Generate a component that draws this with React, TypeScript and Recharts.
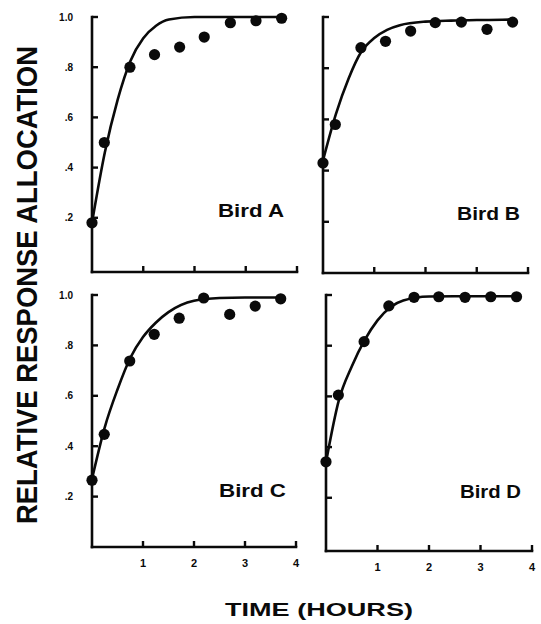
import React from "react";
import { ComposedChart, Line, Scatter, XAxis, YAxis } from "recharts";

// session times (hours) shared by all four birds
const sessionTimes = [0, 0.24, 0.74, 1.22, 1.71, 2.19, 2.7, 3.2, 3.7];

const birdAValues = [0.18, 0.5, 0.8, 0.85, 0.88, 0.92, 0.977, 0.985, 0.995];
const birdBValues = [0.43, 0.58, 0.88, 0.905, 0.945, 0.978, 0.98, 0.952, 0.98];
const birdCValues = [0.265, 0.447, 0.738, 0.844, 0.908, 0.988, 0.923, 0.956, 0.985];
const birdDValues = [0.342, 0.605, 0.816, 0.957, 0.991, 0.993, 0.991, 0.993, 0.993];

// fitted curves
const fitTimes = [0, 0.25, 0.5, 0.75, 1.0, 1.25, 1.5, 2.0, 2.5, 3.0, 3.5, 3.72];
const birdAFit = [0.18, 0.46, 0.67, 0.825, 0.915, 0.965, 0.99, 1.0, 1.0, 1.0, 1.0, 1.0];
const birdBFit = [0.44, 0.62, 0.76, 0.865, 0.918, 0.95, 0.968, 0.982, 0.986, 0.988, 0.989, 0.99];
const birdCFit = [0.27, 0.475, 0.625, 0.75, 0.833, 0.89, 0.932, 0.977, 0.988, 0.99, 0.99, 0.99];
const birdDFit = [0.34, 0.585, 0.718, 0.822, 0.9, 0.952, 0.978, 0.994, 0.995, 0.995, 0.995, 0.995];

const birdNames = ["Bird A", "Bird B", "Bird C", "Bird D"];
const yTicks = [0.2, 0.4, 0.6, 0.8, 1.0];
const xTicks = [1, 2, 3, 4];

const FONT = "'Liberation Sans', Arial, Helvetica, sans-serif";
const INK = "#0a0a0a";

const Y_AXIS_W = 40;
const M_TOP = 10;
const M_RIGHT = 10;
const X_AXIS_H = 30;
const TICK_LEN = 6; // px, inward tick marks

type Box = { left: number; right: number; top: number; bottom: number; yMin: number };

// plot boxes of the four panels (page pixels)
const panelA: Box = { left: 92, right: 297, top: 17, bottom: 272, yMin: -0.016 };
const panelB: Box = { left: 323, right: 528, top: 17, bottom: 273, yMin: 0 };
const panelC: Box = { left: 92, right: 296, top: 295, bottom: 547, yMin: 0 };
const panelD: Box = { left: 326, right: 532, top: 295, bottom: 551, yMin: -0.01 };

type PanelProps = {
  values: number[];
  fit: number[];
  box: Box;
  showY: boolean;
  showX: boolean;
};

const Dot = (props: any) => {
  const { cx, cy } = props;
  if (cx == null || cy == null) return null;
  return <circle cx={cx} cy={cy} r={5.6} fill={INK} />;
};

const fmtY = (v: number) => (v === 1 ? "1.0" : "." + Math.round(v * 10));

const Panel: React.FC<PanelProps> = ({ values, fit, box, showY, showX }) => {
  const { left, right, top, bottom, yMin } = box;
  const points = sessionTimes.map((t, i) => ({ t, v: values[i] }));
  const curve = fitTimes.map((t, i) => ({ t, v: fit[i] }));
  const width = right - left + Y_AXIS_W + M_RIGHT;
  const height = bottom - top + M_TOP + X_AXIS_H;
  const tickStyle = { fill: INK, fontWeight: 700, fontFamily: FONT };
  return (
    <div style={{ position: "absolute", left: left - Y_AXIS_W, top: top - M_TOP }}>
      <ComposedChart
        width={width}
        height={height}
        data={curve}
        margin={{ top: M_TOP, right: M_RIGHT, left: 0, bottom: 0 }}
      >
        <XAxis
          type="number"
          dataKey="t"
          domain={[0, 4]}
          ticks={xTicks}
          interval={0}
          height={X_AXIS_H}
          tickSize={0}
          tickMargin={12}
          axisLine={{ stroke: INK, strokeWidth: 2.6, strokeLinecap: "square" }}
          tickLine={false}
          tick={showX ? { ...tickStyle, fontSize: 11 } : false}
        />
        <YAxis
          type="number"
          dataKey="v"
          domain={[yMin, 1]}
          ticks={yTicks}
          interval={0}
          width={Y_AXIS_W}
          tickSize={0}
          tickMargin={19}
          axisLine={{ stroke: INK, strokeWidth: 2.6, strokeLinecap: "square" }}
          tickLine={false}
          tick={showY ? { ...tickStyle, fontSize: 10 } : false}
          tickFormatter={fmtY}
        />
        <Line
          type="monotone"
          dataKey="v"
          stroke={INK}
          strokeWidth={2.6}
          dot={false}
          isAnimationActive={false}
        />
        <Scatter data={points} dataKey="v" shape={<Dot />} isAnimationActive={false} />
      </ComposedChart>
    </div>
  );
};

// inward tick marks for one panel, placed with the same linear scale as its axes
const TickMarks: React.FC<{ box: Box }> = ({ box }) => {
  const { left, right, top, bottom, yMin } = box;
  const sx = (t: number) => left + (t / 4) * (right - left);
  const sy = (v: number) => bottom - ((v - yMin) / (1 - yMin)) * (bottom - top);
  return (
    <g stroke={INK} strokeWidth={2.4}>
      {yTicks.map((v) => (
        <line key={"y" + v} x1={left} x2={left + TICK_LEN} y1={sy(v)} y2={sy(v)} />
      ))}
      {xTicks.map((t) => (
        <line key={"x" + t} x1={sx(t)} x2={sx(t)} y1={bottom} y2={bottom - TICK_LEN} />
      ))}
    </g>
  );
};

const labelStyle: React.CSSProperties = { fontFamily: FONT, fontWeight: 700 };

export default function App() {
  return (
    <div
      style={{
        position: "absolute",
        left: 0,
        top: 0,
        width: 541,
        height: 624,
        background: "#fff",
        overflow: "hidden",
      }}
    >
      <Panel values={birdAValues} fit={birdAFit} box={panelA} showY showX={false} />
      <Panel values={birdBValues} fit={birdBFit} box={panelB} showY={false} showX={false} />
      <Panel values={birdCValues} fit={birdCFit} box={panelC} showY showX />
      <Panel values={birdDValues} fit={birdDFit} box={panelD} showY={false} showX />

      <svg
        width={541}
        height={624}
        style={{ position: "absolute", left: 0, top: 0, pointerEvents: "none" }}
      >
        <TickMarks box={panelA} />
        <TickMarks box={panelB} />
        <TickMarks box={panelC} />
        <TickMarks box={panelD} />
        <text x={218} y={217} fontSize={19} textLength={66} lengthAdjust="spacingAndGlyphs" fill={INK} style={labelStyle}>
          {birdNames[0]}
        </text>
        <text x={457} y={220} fontSize={19} textLength={63} lengthAdjust="spacingAndGlyphs" fill={INK} style={labelStyle}>
          {birdNames[1]}
        </text>
        <text x={219} y={497} fontSize={19} textLength={67} lengthAdjust="spacingAndGlyphs" fill={INK} style={labelStyle}>
          {birdNames[2]}
        </text>
        <text x={460} y={498} fontSize={19} textLength={61} lengthAdjust="spacingAndGlyphs" fill={INK} style={labelStyle}>
          {birdNames[3]}
        </text>
        <text x={225} y={616} fontSize={18} textLength={188} lengthAdjust="spacingAndGlyphs" fill={INK} style={labelStyle}>
          TIME (HOURS)
        </text>
        <text
          transform="translate(37,285) rotate(-90)"
          x={0}
          y={0}
          textAnchor="middle"
          fontSize={30}
          textLength={478}
          lengthAdjust="spacingAndGlyphs"
          fill={INK}
          style={labelStyle}
        >
          RELATIVE RESPONSE ALLOCATION
        </text>
      </svg>
    </div>
  );
}
